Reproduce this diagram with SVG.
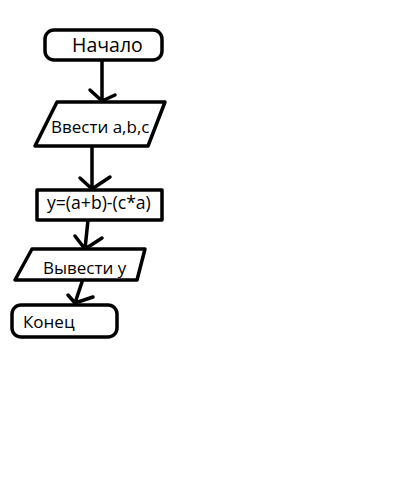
<svg xmlns="http://www.w3.org/2000/svg" width="412" height="480" viewBox="0 0 412 480">
<style>
.s{fill:#fff;stroke:#000;stroke-width:3.5;stroke-linejoin:round}
.c{fill:none;stroke:#000;stroke-width:3.5;stroke-linecap:round;stroke-linejoin:round}
text{font-family:"Open Sans","Liberation Sans",sans-serif;font-size:17px;fill:#000}
</style>
<rect width="412" height="480" fill="#fff"/>
<g id="connectors">
<path class="c" d="M102 60 L102 101 M90 90 L102 101 L115 95"/>
<path class="c" d="M92 146 L92 189 M80 178 L92 189 L110 177"/>
<path class="c" d="M88 220 L85 249 M75 236 L85 249 L102 238"/>
<path class="c" d="M82 282 L75 303 M68 295 L75 303 L93 297"/>
</g>
<g id="start">
<rect class="s" x="45" y="30" width="117" height="30" rx="9"/>
<text x="72" y="52" style="font-size:19.5px">Начало</text>
</g>
<g id="input">
<polygon class="s" points="57,102 165,102 148,146 35,146"/>
<text x="51" y="133">Ввести a,b,c</text>
</g>
<g id="calc">
<rect class="s" x="37" y="190" width="125" height="30"/>
<text x="47" y="209" style="font-size:17.6px">y=(a+b)-(c*a)</text>
</g>
<g id="output">
<polygon class="s" points="32,249 145,249 137,280 15,280"/>
<text x="43" y="274">Вывести y</text>
</g>
<g id="end">
<rect class="s" x="12" y="305" width="105" height="32" rx="9"/>
<text x="23" y="328">Конец</text>
</g>
</svg>
